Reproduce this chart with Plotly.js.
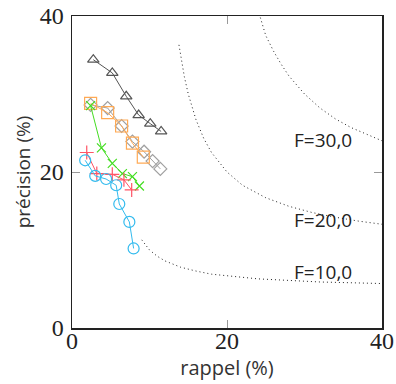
<!DOCTYPE html>
<html><head><meta charset="utf-8">
<script src="https://cdn.plot.ly/plotly-3.0.1.min.js"></script>
<style>html,body{margin:0;padding:0;background:#fff}</style>
</head><body>
<div id="chart" style="width:396px;height:384px"></div>
<script>
// Series (rappel %, précision %)
const triR = [2.75, 5.2, 7.0, 8.6, 10.1, 11.5];
const triP = [34.4, 32.7, 29.7, 27.3, 26.2, 25.2];
const sqR = [2.4, 4.6, 6.4, 7.8, 9.2];
const sqP = [28.8, 27.6, 25.9, 23.7, 21.9];
const diaR = [2.4, 4.6, 6.4, 7.8, 9.3, 10.4, 11.4];
const diaP = [28.6, 28.2, 25.9, 23.9, 22.6, 21.4, 20.4];
const xR = [2.4, 3.8, 5.2, 6.5, 7.8, 8.7];
const xP = [28.5, 23.1, 21.1, 19.8, 19.4, 18.2];
const plusR = [1.9, 3.2, 5.2, 6.7, 7.7];
const plusP = [22.5, 19.8, 19.7, 19.0, 17.7];
const circR = [1.7, 3.0, 4.4, 5.7, 6.1, 7.4, 7.95];
const circP = [21.5, 19.5, 19.1, 18.3, 15.9, 13.6, 10.2];

// Iso-F dotted curves
const f30R = [24.3, 25, 26, 27, 28, 30, 32, 34, 36, 38, 40];
const f30P = [39.8, 37.5, 35.5, 33.8, 32.3, 30.0, 28.2, 26.8, 25.7, 24.8, 24.0];
const f20R = [13.8, 14.5, 15, 16, 17, 18, 20, 22, 25, 28, 31, 34, 37, 40];
const f20P = [36.3, 32.2, 30, 26.7, 24.3, 22.5, 20, 18.3, 16.7, 15.6, 14.8, 14.2, 13.7, 13.3];
const f10R = [9, 9.5, 10, 11, 12, 14, 16, 18, 20, 24, 28, 32, 36, 40];
const f10P = [11.3, 10.6, 10, 9.2, 8.6, 7.8, 7.3, 6.9, 6.7, 6.3, 6.1, 5.9, 5.8, 5.7];
const isoLabels = ["F=30,0", "F=20,0", "F=10,0"];
const isoLabelR = [32.4, 32.4, 32.4];
const isoLabelP = [24.1, 13.8, 7.15];
const tickVals = [0, 20, 40];

const dotted = {color: '#222', width: 1, dash: '1px,3px'};
function iso(r, p) {
  return {x: r, y: p, mode: 'lines', line: dotted, hoverinfo: 'skip', showlegend: false};
}
function ser(r, p, color, sym, size) {
  return {x: r, y: p, mode: 'lines+markers', line: {color: color, width: 1},
    marker: {symbol: sym, size: size, color: color, line: {color: color, width: 1.2}},
    showlegend: false};
}
const data = [
  iso(f30R, f30P), iso(f20R, f20P), iso(f10R, f10P),
  ser(diaR, diaP, '#a0a0a0', 'diamond-open', 10),
  ser(sqR, sqP, '#ffaa55', 'square-open', 12),
  ser(triR, triP, '#555555', 'triangle-up-open', 10),
  ser(xR, xP, '#44dd22', 'x-thin-open', 9),
  ser(plusR, plusP, '#ff5566', 'cross-thin-open', 10),
  ser(circR, circP, '#33bbee', 'circle-open', 11)
];
const annotations = isoLabels.map((t, i) => ({
  x: isoLabelR[i], y: isoLabelP[i], xref: 'x', yref: 'y', text: t, showarrow: false,
  font: {family: 'Open Sans', size: 19, color: '#222'}
}));
const axisCommon = {
  range: [0, 40], tickvals: tickVals, ticktext: tickVals.map(String),
  ticks: 'inside', ticklen: 8, tickcolor: '#999', tickwidth: 1,
  showline: true, linecolor: '#222', linewidth: 1.5, mirror: 'ticks',
  showgrid: false, zeroline: false,
  tickfont: {family: 'Liberation Serif', size: 24, color: '#222'}
};
const layout = {
  width: 396, height: 384,
  margin: {l: 72, r: 14, t: 16, b: 56},
  paper_bgcolor: '#fff', plot_bgcolor: '#fff',
  xaxis: Object.assign({}, axisCommon, {
    ticklabelstandoff: -9,
    title: {text: 'rappel (%)', font: {family: 'Open Sans', size: 20, color: '#333'}, standoff: 6}
  }),
  yaxis: Object.assign({}, axisCommon, {
    ticklabelstandoff: 2,
    title: {text: 'précision (%)', font: {family: 'Open Sans', size: 19, color: '#333'}, standoff: 4}
  }),
  annotations: annotations
};
Plotly.newPlot('chart', data, layout, {displayModeBar: false, staticPlot: true});
</script>
</body></html>
